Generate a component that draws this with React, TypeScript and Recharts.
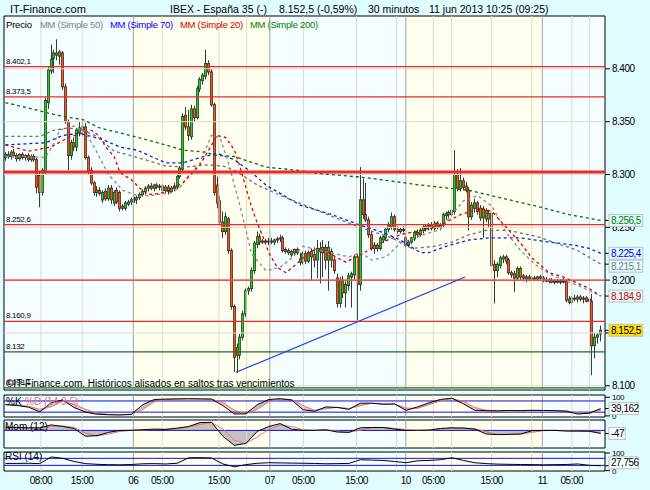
import React from 'react';
import { ComposedChart, Bar, Line, Area, XAxis, YAxis, ReferenceLine, ReferenceArea } from 'recharts';

const FONT = '"Liberation Sans", Arial, Helvetica, sans-serif';
const PAGE = '#e0fcff';
const PALE = '#f4fdff';
const CREAM = '#fffff0';
const UP = '#20d020';
const DOWN = '#f4581f';
const WICK = '#383838';
const LEVEL = '#f02828';
const GRID = '#dcdccb';
const DAYLINE = '#a3a393';
const BAND = '#1010e0';

const W = 650;
const X_DOMAIN: [number, number] = [-0.5, 209.5];
const P_DOMAIN: [number, number] = [8096, 8450];
const STOCH_DOMAIN: [number, number] = [-6, 112];
const MOM_DOMAIN: [number, number] = [-270, 160];
const RSI_DOMAIN: [number, number] = [-2, 106];

// 30 minute candles [open, high, low, close], one list per session
const day05 = [
  [8316, 8321, 8313, 8319], [8319, 8322, 8315, 8317], [8317, 8323, 8314, 8321], [8321, 8324, 8316, 8318],
  [8318, 8320, 8312, 8315], [8315, 8320, 8313, 8319], [8319, 8321, 8314, 8316], [8316, 8319, 8313, 8318],
  [8318, 8320, 8312, 8314], [8314, 8319, 8312, 8317], [8317, 8319, 8312, 8314], [8314, 8316, 8282, 8288],
  [8299, 8302, 8269, 8283], [8283, 8306, 8280, 8304], [8302, 8373, 8300, 8370], [8368, 8402, 8362, 8399],
  [8398, 8423, 8395, 8409], [8410, 8418, 8396, 8415], [8415, 8428, 8408, 8413], [8412, 8418, 8404, 8416],
  [8415, 8417, 8380, 8383], [8383, 8386, 8348, 8350], [8350, 8352, 8304, 8318], [8318, 8333, 8314, 8330],
  [8330, 8335, 8322, 8326], [8326, 8344, 8322, 8342], [8340, 8350, 8336, 8344], [8342, 8351, 8336, 8345],
  [8345, 8349, 8314, 8316], [8316, 8318, 8300, 8302], [8304, 8307, 8290, 8292], [8292, 8294, 8280, 8283],
  [8283, 8289, 8279, 8285], [8285, 8288, 8280, 8282], [8276, 8285, 8273, 8283], [8284, 8287, 8275, 8277],
  [8277, 8290, 8275, 8287], [8287, 8290, 8272, 8276], [8273, 8285, 8270, 8283], [8285, 8288, 8272, 8274],
  [8283, 8285, 8265, 8268], [8270, 8272, 8266, 8268], [8268, 8275, 8266, 8273], [8272, 8276, 8270, 8274],
  [8274, 8278, 8271, 8276],
];
const day06 = [
  [8276, 8279, 8273, 8277], [8276, 8280, 8272, 8278], [8278, 8283, 8276, 8281], [8281, 8286, 8279, 8284],
  [8284, 8289, 8281, 8287], [8287, 8291, 8284, 8289], [8289, 8292, 8285, 8287], [8287, 8291, 8284, 8290],
  [8290, 8292, 8286, 8288], [8288, 8291, 8285, 8289], [8289, 8291, 8283, 8285], [8285, 8290, 8282, 8288],
  [8288, 8290, 8281, 8284], [8284, 8289, 8282, 8287], [8287, 8292, 8284, 8289], [8288, 8300, 8286, 8298],
  [8298, 8308, 8296, 8306], [8305, 8358, 8302, 8355], [8356, 8364, 8342, 8345], [8345, 8361, 8332, 8337],
  [8336, 8366, 8333, 8362], [8362, 8365, 8350, 8354], [8354, 8384, 8352, 8381], [8381, 8392, 8378, 8390],
  [8389, 8396, 8385, 8394], [8393, 8418, 8390, 8405], [8405, 8408, 8394, 8397], [8397, 8400, 8364, 8366],
  [8366, 8368, 8280, 8283], [8290, 8298, 8268, 8273], [8275, 8280, 8252, 8255], [8255, 8265, 8240, 8246],
  [8246, 8264, 8243, 8260], [8258, 8260, 8225, 8228], [8228, 8230, 8172, 8175], [8175, 8177, 8113, 8127],
  [8136, 8140, 8112, 8129], [8129, 8149, 8125, 8146], [8146, 8171, 8143, 8168], [8168, 8192, 8165, 8190],
  [8190, 8194, 8186, 8192], [8192, 8212, 8189, 8209], [8209, 8237, 8206, 8235], [8234, 8246, 8230, 8241],
  [8241, 8244, 8233, 8236], [8236, 8239, 8234, 8237], [8237, 8239, 8234, 8236],
];
const day07 = [
  [8236, 8240, 8233, 8237], [8237, 8240, 8234, 8236], [8236, 8239, 8233, 8238], [8238, 8241, 8235, 8239],
  [8239, 8243, 8236, 8240], [8240, 8242, 8226, 8228], [8229, 8231, 8225, 8227], [8228, 8230, 8224, 8226],
  [8224, 8229, 8222, 8227], [8226, 8230, 8223, 8229], [8229, 8231, 8224, 8226], [8220, 8226, 8214, 8217],
  [8217, 8227, 8215, 8225], [8225, 8228, 8215, 8218], [8218, 8228, 8216, 8226], [8227, 8230, 8200, 8222],
  [8224, 8231, 8212, 8219], [8219, 8238, 8202, 8230], [8230, 8236, 8197, 8227], [8226, 8238, 8203, 8231],
  [8231, 8234, 8210, 8219], [8219, 8237, 8190, 8231], [8227, 8230, 8212, 8219], [8219, 8222, 8206, 8209],
  [8202, 8206, 8174, 8178], [8178, 8203, 8174, 8200], [8200, 8204, 8183, 8188], [8188, 8199, 8174, 8196],
  [8195, 8207, 8190, 8204], [8203, 8208, 8174, 8206], [8205, 8224, 8200, 8222], [8222, 8225, 8162, 8196],
  [8196, 8307, 8190, 8276], [8276, 8296, 8258, 8262], [8262, 8292, 8255, 8257], [8257, 8260, 8240, 8243],
  [8243, 8246, 8228, 8230], [8230, 8236, 8225, 8233], [8233, 8235, 8227, 8230], [8230, 8242, 8228, 8240],
  [8238, 8243, 8235, 8241], [8240, 8250, 8237, 8248], [8248, 8255, 8245, 8252], [8251, 8264, 8248, 8260],
  [8260, 8262, 8246, 8248], [8248, 8251, 8244, 8246], [8246, 8250, 8244, 8248], [8248, 8251, 8245, 8247],
];
const day10 = [
  [8240, 8242, 8231, 8233], [8233, 8238, 8231, 8236], [8236, 8241, 8234, 8240], [8239, 8247, 8237, 8245],
  [8245, 8248, 8240, 8243], [8243, 8249, 8241, 8247], [8247, 8252, 8244, 8250], [8249, 8253, 8246, 8251],
  [8251, 8254, 8247, 8252], [8252, 8255, 8247, 8249], [8249, 8256, 8247, 8254], [8254, 8256, 8248, 8250],
  [8250, 8254, 8247, 8252], [8252, 8264, 8250, 8262], [8261, 8265, 8257, 8263], [8262, 8266, 8259, 8264],
  [8262, 8268, 8259, 8266], [8265, 8323, 8262, 8300], [8300, 8305, 8284, 8287], [8287, 8306, 8284, 8294],
  [8294, 8297, 8285, 8288], [8289, 8293, 8283, 8285], [8285, 8288, 8247, 8260], [8260, 8274, 8257, 8271],
  [8268, 8277, 8264, 8273], [8273, 8275, 8262, 8265], [8268, 8271, 8256, 8259], [8259, 8270, 8240, 8267],
  [8266, 8268, 8255, 8258], [8258, 8266, 8250, 8263], [8263, 8266, 8212, 8214], [8215, 8219, 8178, 8209],
  [8209, 8217, 8203, 8215], [8214, 8223, 8211, 8221], [8220, 8224, 8216, 8222], [8222, 8224, 8215, 8218],
  [8219, 8221, 8205, 8207], [8207, 8209, 8202, 8205], [8206, 8209, 8189, 8202], [8202, 8213, 8199, 8211],
  [8211, 8213, 8200, 8203], [8204, 8206, 8199, 8202], [8201, 8205, 8198, 8203], [8203, 8205, 8199, 8201],
  [8201, 8204, 8199, 8202], [8202, 8204, 8199, 8201], [8201, 8204, 8199, 8203], [8203, 8205, 8200, 8202],
];
const day11 = [
  [8202, 8204, 8198, 8200], [8200, 8203, 8198, 8199], [8199, 8202, 8197, 8200], [8200, 8202, 8197, 8198],
  [8198, 8201, 8196, 8199], [8199, 8201, 8197, 8198], [8198, 8201, 8196, 8199], [8199, 8202, 8197, 8199],
  [8199, 8201, 8179, 8181], [8182, 8185, 8177, 8179], [8179, 8185, 8177, 8183], [8183, 8186, 8180, 8182],
  [8182, 8186, 8179, 8184], [8184, 8186, 8180, 8182], [8182, 8185, 8178, 8183], [8183, 8185, 8179, 8180],
  [8182, 8184, 8178, 8180], [8180, 8187, 8110, 8138], [8138, 8150, 8126, 8146], [8146, 8150, 8140, 8148],
  [8149, 8157, 8142, 8152.5],
];

// moving averages as [bar, value]
const mm20 = [[0, 8328], [8, 8322], [16, 8326], [22, 8335], [30, 8342], [33, 8336], [35, 8326], [38, 8317], [40, 8302], [44, 8295], [47, 8287], [50, 8281], [54, 8282], [57, 8285], [62, 8292], [68, 8309], [71, 8323], [74, 8337], [77, 8335], [80, 8323], [82, 8307], [84, 8288], [86, 8269], [88, 8254], [90, 8241], [92, 8226], [95, 8212], [98, 8207], [102, 8216], [106, 8226], [109, 8230], [112, 8228], [116, 8221], [119, 8217], [124, 8224], [131, 8235], [138, 8243], [145, 8247], [152, 8252], [159, 8262], [166, 8268], [170, 8265], [175, 8250], [180, 8235], [184, 8221], [190, 8207], [195, 8203], [200, 8197], [204, 8192], [208, 8184.9]];
const mm50 = [[0, 8336], [12, 8336], [17, 8342], [22, 8344], [27, 8342], [32, 8336], [38, 8322], [45, 8317], [56, 8308], [63, 8307], [70, 8309], [76, 8308], [80, 8304], [88, 8290], [98, 8278], [109, 8266], [118, 8256], [126, 8248], [135, 8240], [142, 8230], [150, 8232], [156, 8236], [162, 8243], [168, 8247], [176, 8247], [186, 8241], [200, 8228], [208, 8215.1]];
const mmFast = [[0, 8317], [8, 8317], [14, 8316], [17, 8330], [19, 8342], [24, 8346], [28, 8340], [31, 8326], [36, 8300], [41, 8285], [46, 8280], [51, 8280], [58, 8283], [61, 8288], [64, 8299], [68, 8311], [72, 8337], [75, 8335], [78, 8310], [82, 8270], [86, 8225], [91, 8209], [96, 8212], [100, 8221], [104, 8232], [110, 8228], [115, 8225], [120, 8222], [124, 8226], [128, 8219], [133, 8222], [138, 8235], [145, 8242], [152, 8248], [156, 8262], [160, 8275], [165, 8280], [170, 8270], [175, 8245], [180, 8228], [185, 8215], [190, 8206], [195, 8200], [200, 8195], [208, 8185]];
const mm70 = [[0, 8328], [14, 8330], [20, 8337], [26, 8339], [34, 8333], [40, 8326], [46, 8323], [51, 8317], [56, 8311], [62, 8311], [68, 8316], [74, 8320], [80, 8314], [86, 8302], [91, 8290], [103, 8271], [114, 8262], [124, 8252], [132, 8245], [138, 8238], [145, 8226], [148, 8226], [155, 8233], [162, 8238], [169, 8240], [180, 8240], [190, 8236], [199, 8233], [204, 8230], [208, 8225.4]];
const mm200 = [[0, 8368], [11, 8361], [15, 8358], [22, 8354], [27, 8352], [33, 8344], [39, 8340], [45, 8336], [56, 8328], [62, 8323], [70, 8321], [74, 8318], [80, 8317], [91, 8307], [102, 8304], [109, 8301], [126, 8297], [145, 8290], [162, 8285], [187, 8269], [197, 8262], [208, 8256.5]];

const supportLevels = [8402.1, 8373.5, 8302.4, 8252.6, 8200, 8160.9];
const strongLevel = 8302.4;
const greenLevels = [8132, 8098.1];
const labelledLevels = [8402.1, 8373.5, 8252.6, 8160.9, 8132, 8098.1];
const trendFrom = { x: 80.6, y: 8112.8 };
const trendTo = { x: 160.6, y: 8203 };

const priceGrid = [8100, 8150, 8200, 8250, 8300, 8350, 8400];
const tagValues = [8256.5, 8225.4, 8215.1, 8184.9, 8152.5];

// indicators sampled every 4 bars
const stochK = [60, 56, 47, 22, 70, 86, 45, 20, 9, 6, 5, 8, 60, 88, 90, 91, 92, 91, 90, 55, 10, 11, 60, 88, 92, 85, 33, 25, 48, 45, 35, 68, 68, 62, 64, 30, 48, 70, 88, 95, 65, 30, 28, 27, 29, 28, 30, 29, 28, 25, 10, 15, 39.162];
const stochD = [62, 58, 52, 35, 50, 78, 62, 35, 14, 8, 6, 7, 35, 75, 88, 90, 91, 91, 90, 72, 30, 12, 35, 75, 90, 88, 55, 30, 38, 46, 40, 55, 68, 65, 63, 42, 40, 60, 80, 92, 78, 45, 30, 28, 28, 28, 29, 29, 28, 27, 16, 13, 30];
const momentum = [50, 45, 40, 38, 85, 60, 30, -90, -80, -30, 0, 2, 10, 20, 15, 35, 60, 120, 125, -90, -230, -200, -15, 60, 105, 20, 0, 2, 10, -25, -30, 40, 45, 45, 20, 0, 2, 5, 30, 40, 35, 20, -55, -65, -60, -55, -5, 0, 0, -10, -10, -12, -47];
const momSignal = [48, 46, 42, 40, 60, 70, 45, -40, -85, -55, -15, 0, 5, 15, 18, 25, 48, 90, 122, 20, -150, -200, -100, 15, 80, 60, 10, 0, 5, -10, -28, 5, 40, 45, 32, 10, 0, 3, 18, 35, 38, 28, -20, -60, -62, -58, -30, -3, 0, -5, -10, -11, -30];
const rsi14 = [41, 41, 42, 40, 78, 70, 52, 40, 36, 34, 33, 35, 39, 40, 38, 42, 73, 74, 72, 38, 22, 34, 42, 45, 44, 43, 42, 41, 39, 40, 41, 62, 60, 58, 52, 45, 56, 58, 62, 73, 58, 45, 40, 37, 36, 35, 34, 33, 34, 35, 38, 30, 27.756];
const SAMPLE_STEP = 4;

// time axis
const dayBounds = [-0.5, 44.7, 92.4, 139.9, 187.6, 209.5];
const hourLines = [12.4, 26.8, 54.8, 74.6, 84.3, 104.1, 122.7, 136.7, 149.5, 155.9, 169.9, 183.9, 197.9, 204.1];
const xTickPos = [12.4, 26.8, 44.7, 54.8, 74.6, 92.4, 104.1, 122.7, 139.9, 149.5, 169.9, 187.6, 197.9];
const xTickLabels = ['08:00', '15:00', '06', '05:00', '15:00', '07', '05:00', '15:00', '10', '05:00', '15:00', '11', '05:00'];

const tagStyle: Record<number, { color: string; bg: string; nudge: number }> = {
  8256.5: { color: '#008000', bg: PAGE, nudge: 0 },
  8225.4: { color: '#0000ff', bg: PAGE, nudge: 0 },
  8215.1: { color: '#808080', bg: PAGE, nudge: 2 },
  8184.9: { color: '#d00000', bg: PAGE, nudge: 0 },
  8152.5: { color: '#000000', bg: '#ffdd00', nudge: 0 },
};

const fmtEs = (v: number, dec = 0) => {
  const [int, frac] = Math.abs(v).toFixed(dec).split('.');
  const grouped = int.replace(/\B(?=(\d{3})+(?!\d))/g, '.');
  return (v < 0 ? '-' : '') + grouped + (frac ? ',' + frac : '');
};
const decOf = (v: number) => (Number.isInteger(v) ? 0 : 1);

const candles = [...day05, ...day06, ...day07, ...day10, ...day11];
const asMap = (pairs: number[][]) => new Map(pairs.map(([i, v]) => [i, v] as [number, number]));
const maps = { ma20: asMap(mm20), ma50: asMap(mm50), maFast: asMap(mmFast), ma70: asMap(mm70), ma200: asMap(mm200) };

const mainData = candles.map(([o, h, l, c], i) => ({
  i, o, h, l, c,
  range: [l, h],
  ma20: maps.ma20.get(i) ?? null,
  ma50: maps.ma50.get(i) ?? null,
  maFast: maps.maFast.get(i) ?? null,
  ma70: maps.ma70.get(i) ?? null,
  ma200: maps.ma200.get(i) ?? null,
}));

const indData = stochK.map((k, n) => {
  const d = stochD[n];
  return {
    i: n * SAMPLE_STEP,
    k, d,
    kOver: k >= d ? [d, k] : [k, k],
    dOver: d > k ? [k, d] : [d, d],
    mom: momentum[n],
    momFill: [0, momentum[n]],
    sig: momSignal[n],
    rsi: rsi14[n],
  };
});

const Candle = (props: any) => {
  const { x, y, width, height, payload } = props;
  if (x == null || y == null || !payload) return null;
  const { o, h, l, c } = payload;
  const yTop = Math.min(y, y + height);
  const yBot = Math.max(y, y + height);
  const span = h - l || 1;
  const py = (v: number) => yTop + ((h - v) / span) * (yBot - yTop);
  const bTop = py(Math.max(o, c));
  const bBot = py(Math.min(o, c));
  const cx = Math.floor(x + width / 2) + 0.5;
  const bh = Math.max(bBot - bTop, 1);
  return (
    <g>
      <line x1={cx} x2={cx} y1={yTop} y2={yBot} stroke={WICK} strokeWidth={1} />
      <rect x={cx - 1.5} y={bTop - 0.5} width={3} height={bh + 1} fill={WICK} />
      {bh > 1.2 && <rect x={cx - 0.8} y={bTop + 0.4} width={1.6} height={bh - 0.8} fill={c >= o ? UP : DOWN} />}
    </g>
  );
};

const PriceTick = (props: any) => {
  const { x, y, payload } = props;
  const v = payload.value;
  const tag = tagStyle[v];
  if (!tag) {
    return (
      <text x={x} y={y + 3.5} fontSize={10} letterSpacing={-0.5} fill="#000" fontFamily={FONT}>
        {fmtEs(v, 0)}
      </text>
    );
  }
  const txt = fmtEs(v, 1);
  const cy = y + tag.nudge;
  return (
    <g>
      <rect x={x - 3} y={cy - 6} width={txt.length * 4.4 + 3} height={12} fill={tag.bg} stroke="#c0c0c0" />
      <text x={x - 1} y={cy + 3.5} fontSize={10} letterSpacing={-0.5} fill={tag.color} fontFamily={FONT}>
        {txt}
      </text>
    </g>
  );
};

const makeIndTick = (tag: number, text: string, nudge = 0) => (props: any) => {
  const { x, y, payload } = props;
  if (payload.value !== tag) {
    return (
      <text x={x} y={y + 3} fontSize={8} letterSpacing={-0.4} fill="#000" fontFamily={FONT}>
        {payload.value}
      </text>
    );
  }
  const cy = y + nudge;
  return (
    <g>
      <rect x={x - 3} y={cy - 6} width={text.length * 4.4 + 3} height={12} fill="#f6ffff" stroke="#c0c0c0" />
      <text x={x - 1} y={cy + 3.5} fontSize={10} letterSpacing={-0.5} fill="#000" fontFamily={FONT}>
        {text}
      </text>
    </g>
  );
};

const backdrop = (y1: number, y2: number) => [
  ...dayBounds.slice(0, -1).map((b, n) => (
    <ReferenceArea key={`band${n}`} x1={b} x2={dayBounds[n + 1]} y1={y1} y2={y2} fill={n % 2 ? CREAM : PALE} fillOpacity={1} stroke="none" ifOverflow="visible" />
  )),
  ...hourLines.map((x) => <ReferenceLine key={`hr${x}`} x={x} stroke={GRID} strokeWidth={1} />),
  ...dayBounds.slice(1, -1).map((x) => <ReferenceLine key={`day${x}`} x={x} stroke={DAYLINE} strokeWidth={1} />),
];

const frame = (y1: number, y2: number) => (
  <ReferenceArea x1={X_DOMAIN[0]} x2={X_DOMAIN[1]} y1={y1} y2={y2} fill="none" stroke="#000" strokeWidth={1} ifOverflow="visible" />
);

const LevelLabel = (text: string) => (p: any) => {
  const vb = p && p.viewBox ? p.viewBox : { x: 4, y: 0 };
  return (
    <text x={vb.x + 2} y={vb.y - 3} fontSize={8} letterSpacing={-0.3} fill="#000" fontFamily={FONT}>
      {text}
    </text>
  );
};

const hiddenX = <XAxis type="number" dataKey="i" domain={X_DOMAIN} hide allowDataOverflow />;

const txt = (left: number, top: number, size: number, color: string, s: string, spacing = 0) => (
  <div style={{ position: 'absolute', left, top, fontSize: size, lineHeight: 1, color, whiteSpace: 'nowrap', fontFamily: FONT, letterSpacing: spacing }}>{s}</div>
);

const dash = (key: string, color: string, width = 1.3) => (
  <Line key={key} dataKey={key} stroke={color} strokeWidth={width} strokeDasharray="3 3" dot={false} activeDot={false} connectNulls isAnimationActive={false} />
);

export default function App() {
  const lastK = stochK[stochK.length - 1];
  const lastMom = momentum[momentum.length - 1];
  const lastRsi = rsi14[rsi14.length - 1];
  return (
    <div style={{ position: 'absolute', left: 0, top: 0, width: 650, height: 490, background: PAGE, fontFamily: FONT, overflow: 'hidden' }}>
      <div style={{ position: 'absolute', left: 0, top: 0 }}>
        <ComposedChart width={W} height={392} data={mainData} margin={{ top: 16, right: 0, bottom: 2, left: 4 }}>
          {hiddenX}
          <YAxis
            orientation="right"
            domain={P_DOMAIN}
            ticks={[...priceGrid, ...tagValues]}
            interval={0}
            width={45}
            axisLine={false}
            tickLine={{ stroke: '#000' }}
            tickSize={5}
            tick={(p: any) => <PriceTick {...p} />}
            allowDataOverflow
          />
          {backdrop(P_DOMAIN[0], P_DOMAIN[1])}
          {priceGrid.map((v) => <ReferenceLine key={`g${v}`} y={v} stroke={GRID} strokeWidth={1} />)}
          {dash('ma200', '#007000')}
          {dash('ma70', '#0020e0')}
          {dash('ma50', '#707070')}
          {dash('maFast', '#8a8a8a')}
          {dash('ma20', '#e00000')}
          <Bar dataKey="range" barSize={3} shape={(p: any) => <Candle {...p} />} isAnimationActive={false} />
          {supportLevels.map((v) => (
            <ReferenceLine
              key={`lv${v}`}
              y={v}
              stroke={LEVEL}
              strokeWidth={v === strongLevel ? 3 : 1.2}
              label={labelledLevels.includes(v) ? LevelLabel(fmtEs(v, decOf(v))) : undefined}
            />
          ))}
          {greenLevels.map((v) => (
            <ReferenceLine key={`gl${v}`} y={v} stroke="#1a6e1a" strokeWidth={1.3} label={LevelLabel(fmtEs(v, decOf(v)))} />
          ))}
          <ReferenceLine segment={[trendFrom, trendTo]} stroke="#1e3ee0" strokeWidth={1.2} />
          {frame(P_DOMAIN[0], P_DOMAIN[1])}
        </ComposedChart>
      </div>

      <div style={{ position: 'absolute', left: 0, top: 390 }}>
        <ComposedChart width={W} height={32} data={indData} margin={{ top: 5, right: 0, bottom: 5, left: 4 }}>
          {hiddenX}
          <YAxis orientation="right" domain={STOCH_DOMAIN} ticks={[100, 0, lastK]} interval={0} width={45} axisLine={false} tickLine={{ stroke: '#000' }} tickSize={5} tick={makeIndTick(lastK, fmtEs(lastK, 3))} allowDataOverflow />
          {backdrop(STOCH_DOMAIN[0], STOCH_DOMAIN[1])}
          <Area dataKey="kOver" stroke="none" fill="#c2c2c2" fillOpacity={1} isAnimationActive={false} />
          <Area dataKey="dOver" stroke="none" fill="#f6c6c6" fillOpacity={1} isAnimationActive={false} />
          <ReferenceLine y={80} stroke={BAND} strokeWidth={1} />
          <ReferenceLine y={20} stroke={BAND} strokeWidth={1} />
          <Line dataKey="d" stroke="#f07070" strokeWidth={1} dot={false} activeDot={false} isAnimationActive={false} />
          <Line dataKey="k" stroke="#000" strokeWidth={1} dot={false} activeDot={false} isAnimationActive={false} />
          {frame(STOCH_DOMAIN[0], STOCH_DOMAIN[1])}
        </ComposedChart>
      </div>

      <div style={{ position: 'absolute', left: 0, top: 418 }}>
        <ComposedChart width={W} height={32} data={indData} margin={{ top: 2, right: 0, bottom: 2, left: 4 }}>
          {hiddenX}
          <YAxis orientation="right" domain={MOM_DOMAIN} ticks={[lastMom]} interval={0} width={45} axisLine={false} tickLine={{ stroke: '#000' }} tickSize={5} tick={makeIndTick(lastMom, fmtEs(lastMom, 0))} allowDataOverflow />
          {backdrop(MOM_DOMAIN[0], MOM_DOMAIN[1])}
          <Area dataKey="momFill" stroke="none" fill="#c2c2c2" fillOpacity={1} isAnimationActive={false} />
          <ReferenceLine y={0} stroke={BAND} strokeWidth={1} />
          <Line dataKey="sig" stroke="#f07070" strokeWidth={1} dot={false} activeDot={false} isAnimationActive={false} />
          <Line dataKey="mom" stroke="#000" strokeWidth={1} dot={false} activeDot={false} isAnimationActive={false} />
          {frame(MOM_DOMAIN[0], MOM_DOMAIN[1])}
        </ComposedChart>
      </div>

      <div style={{ position: 'absolute', left: 0, top: 447 }}>
        <ComposedChart width={W} height={42} data={indData} margin={{ top: 5, right: 0, bottom: 0, left: 4 }}>
          <XAxis
            type="number"
            dataKey="i"
            domain={X_DOMAIN}
            ticks={xTickPos}
            interval={0}
            tickFormatter={(v: number) => xTickLabels[xTickPos.indexOf(v)] ?? ''}
            axisLine={false}
            tickLine={false}
            tickSize={0}
            tickMargin={6}
            height={18}
            tick={{ fontSize: 10, fill: '#000', fontFamily: FONT, letterSpacing: -0.5 }}
            allowDataOverflow
          />
          <YAxis orientation="right" domain={RSI_DOMAIN} ticks={[100, 0, lastRsi]} interval={0} width={45} axisLine={false} tickLine={{ stroke: '#000' }} tickSize={5} tick={makeIndTick(lastRsi, fmtEs(lastRsi, 3), -3)} allowDataOverflow />
          {backdrop(RSI_DOMAIN[0], RSI_DOMAIN[1])}
          <ReferenceLine y={70} stroke={BAND} strokeWidth={1} />
          <ReferenceLine y={30} stroke={BAND} strokeWidth={1} />
          <Line dataKey="rsi" stroke="#000" strokeWidth={1} dot={false} activeDot={false} isAnimationActive={false} />
          {frame(RSI_DOMAIN[0], RSI_DOMAIN[1])}
        </ComposedChart>
      </div>

      {txt(10, 3.5, 11, '#000', 'IT-Finance.com')}
      {txt(170, 3.8, 10.5, '#000', 'IBEX - España 35 (-)')}
      {txt(279, 3.8, 10.5, '#000', '8.152,5 (-0,59%)')}
      {txt(368, 3.8, 10.5, '#000', '30 minutos')}
      {txt(429, 3.8, 10.5, '#000', '11 jun 2013 10:25 (09:25)')}

      {txt(6, 19.5, 9.5, '#000', 'Precio', -0.2)}
      {txt(40, 19.5, 9.5, '#808080', 'MM (Simple 50)', -0.3)}
      {txt(110, 19.5, 9.5, '#0000ff', 'MM (Simple 70)', -0.3)}
      {txt(180, 19.5, 9.5, '#d00000', 'MM (Simple 20)', -0.3)}
      {txt(250, 19.5, 9.5, '#008000', 'MM (Simple 200)', -0.3)}

      {txt(6, 378.5, 10, '#000', '©IT-Finance.com.  Históricos alisados en saltos tras vencimientos')}
      {txt(6, 396.5, 10, '#000', '%K')}
      {txt(25, 396.5, 10, '#f07070', '%D (14 3 5)')}
      {txt(5, 421.5, 10, '#000', 'Mom (12)')}
      {txt(5, 452, 10, '#000', 'RSI (14)')}
    </div>
  );
}
